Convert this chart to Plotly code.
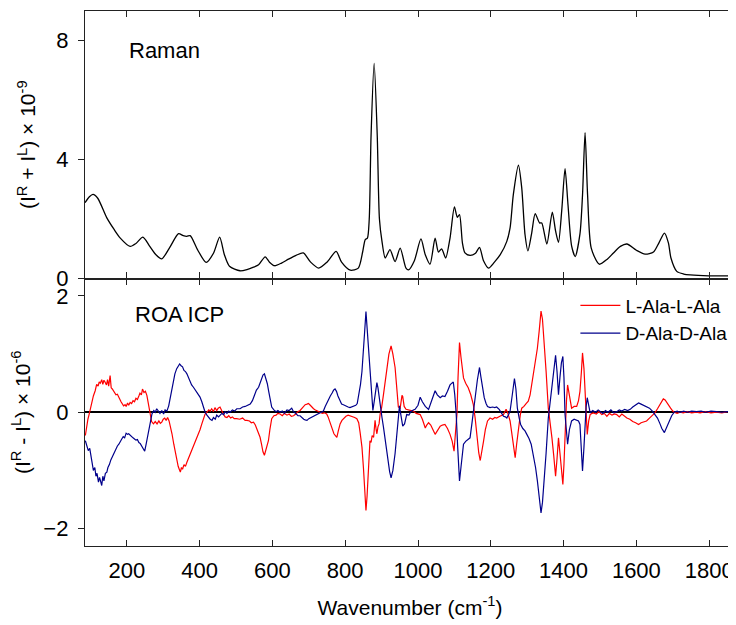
import plotly.graph_objects as go
from plotly.subplots import make_subplots

# Raman spectrum (I^R + I^L) x 1e-9 as (wavenumber, value)
raman = [
    (85, 2.55), (97, 2.75), (107, 2.83), (120, 2.70), (145, 2.04), (165, 1.65), (182, 1.36),
    (209, 1.08), (225, 1.18), (244, 1.39), (262, 1.10), (280, 0.80), (296, 0.66), (318, 1.05),
    (342, 1.51), (355, 1.44), (365, 1.42), (374, 1.44), (395, 0.95), (418, 0.54), (438, 0.85),
    (455, 1.39), (468, 0.80), (482, 0.41), (511, 0.26), (530, 0.30), (548, 0.38), (562, 0.46),
    (580, 0.73), (592, 0.55), (606, 0.43), (625, 0.52), (644, 0.65), (665, 0.78), (685, 0.86),
    (705, 0.55), (727, 0.35), (750, 0.55), (775, 0.91), (790, 0.55), (814, 0.28), (836, 0.35),
    (848, 0.90), (855, 1.31), (861, 1.36), (866, 2.0), (871, 4.8), (879.5, 7.24), (888, 4.8),
    (894, 2.0), (901, 1.25), (910, 0.69), (923, 0.97), (937, 0.57), (951, 1.02), (967, 0.35),
    (974, 0.29), (990, 0.60), (1008, 1.33), (1020, 0.80), (1033, 0.48), (1047, 1.36),
    (1056, 0.89), (1065, 1.00), (1076, 0.69), (1088, 1.36), (1100, 2.41), (1108, 2.06),
    (1114, 2.15), (1122, 1.20), (1129, 0.86), (1143, 0.78), (1158, 0.85), (1169, 1.05),
    (1180, 0.60), (1194, 0.35), (1210, 0.55), (1226, 0.80), (1244, 1.25), (1253, 1.70),
    (1262, 2.83), (1276, 3.81), (1285, 3.05), (1294, 1.48), (1302, 0.93), (1312, 1.5),
    (1322, 2.18), (1334, 1.87), (1340, 1.87), (1354, 1.16), (1369, 2.23), (1378, 1.60),
    (1386, 1.22), (1395, 2.3), (1404, 3.70), (1412, 2.5), (1422, 1.1), (1432, 0.74),
    (1445, 1.5), (1452, 2.8), (1459, 4.91), (1466, 2.8), (1476, 1.02), (1498, 0.48),
    (1520, 0.65), (1537, 0.86), (1556, 1.08), (1574, 1.16), (1600, 0.95), (1624, 0.82),
    (1647, 0.89), (1662, 1.2), (1677, 1.53), (1688, 1.2), (1695, 0.69), (1711, 0.24),
    (1730, 0.15), (1748, 0.12), (1799, 0.09), (1871, 0.09),
]

# ROA ICP (I^R - I^L) x 1e-6, L-Ala-L-Ala
roa_l = [
    (86, -0.40), (90, -0.22), (93, -0.12), (97, -0.02), (101, 0.10), (104, 0.14), (108, 0.28),
    (113, 0.37), (117, 0.48), (121, 0.45), (124, 0.52), (127, 0.50), (131, 0.56), (134, 0.48),
    (137, 0.55), (140, 0.52), (144, 0.47), (147, 0.56), (150, 0.45), (154, 0.63), (157, 0.42),
    (160, 0.40), (163, 0.37), (167, 0.33), (170, 0.30), (174, 0.31), (177, 0.26), (181, 0.22),
    (184, 0.18), (188, 0.14), (191, 0.11), (195, 0.13), (198, 0.10), (202, 0.16), (205, 0.12),
    (209, 0.17), (213, 0.15), (217, 0.20), (221, 0.18), (225, 0.24), (229, 0.22), (233, 0.28),
    (236, 0.33), (240, 0.30), (243, 0.40), (247, 0.34), (251, 0.36), (255, 0.29), (259, 0.15),
    (264, -0.09), (268, -0.16), (273, -0.20), (278, -0.16), (283, -0.20), (288, -0.15),
    (292, -0.19), (296, -0.17), (300, -0.12), (304, -0.10), (308, -0.14), (312, -0.09),
    (316, -0.15), (320, -0.25), (324, -0.37), (329, -0.55), (333, -0.70), (337, -0.83),
    (341, -0.93), (344, -0.98), (347, -1.03), (350, -0.95), (353, -0.98), (357, -0.90),
    (361, -0.93), (365, -0.86), (369, -0.80), (373, -0.74), (378, -0.65), (383, -0.60),
    (387, -0.52), (392, -0.45), (397, -0.37), (401, -0.30), (406, -0.20), (410, -0.12),
    (415, -0.03), (420, 0.00), (425, 0.04), (429, 0.02), (433, 0.06), (438, 0.01), (442, 0.08),
    (447, 0.03), (451, 0.07), (456, 0.09), (460, 0.02), (465, -0.03), (470, -0.08),
    (475, -0.09), (480, -0.06), (485, -0.10), (490, -0.08), (495, -0.11), (502, -0.11),
    (510, -0.12), (518, -0.10), (525, -0.14), (530, -0.14), (537, -0.15), (542, -0.18),
    (548, -0.17), (553, -0.22), (558, -0.30), (562, -0.38), (566, -0.43), (570, -0.55),
    (574, -0.68), (578, -0.74), (582, -0.66), (586, -0.55), (589, -0.49), (593, -0.30),
    (598, -0.11), (604, -0.06), (610, -0.05), (615, -0.02), (621, -0.03), (627, -0.06),
    (633, -0.02), (640, -0.05), (646, -0.03), (652, -0.07), (658, -0.06), (664, -0.03),
    (670, 0.01), (676, 0.03), (681, 0.06), (686, 0.10), (690, 0.13), (695, 0.14), (699, 0.15),
    (704, 0.12), (708, 0.09), (713, 0.06), (718, 0.04), (724, 0.02), (731, 0.00), (737, -0.02),
    (743, -0.01), (749, -0.03), (753, -0.08), (757, -0.15), (761, -0.23), (765, -0.30),
    (769, -0.37), (773, -0.40), (777, -0.43), (781, -0.32), (786, -0.20), (791, -0.14),
    (797, -0.10), (802, -0.07), (808, -0.05), (814, -0.06), (820, -0.08), (826, -0.09),
    (832, -0.11), (837, -0.18), (841, -0.35), (846, -0.60), (850, -0.95), (853, -1.35),
    (857, -1.69), (860, -1.45), (864, -1.06), (868, -0.49), (871, -0.52), (874, -0.40),
    (878, -0.43), (882, -0.14), (885, -0.30), (887, -0.37), (890, -0.25), (893, -0.20),
    (896, -0.03), (900, 0.08), (905, 0.30), (910, 0.54), (915, 0.80), (920, 1.00), (926, 1.14),
    (931, 1.00), (937, 0.77), (942, 0.40), (946, 0.09), (951, 0.07), (956, 0.29), (958, 0.27),
    (962, 0.10), (967, 0.05), (975, 0.04), (987, 0.02), (995, -0.02), (1006, -0.04),
    (1012, -0.12), (1020, -0.27), (1024, -0.22), (1029, -0.18), (1035, -0.22), (1041, -0.30),
    (1047, -0.38), (1053, -0.32), (1061, -0.24), (1067, -0.22), (1074, -0.21), (1081, -0.28),
    (1088, -0.38), (1094, -0.50), (1099, -0.67), (1103, -0.35), (1107, -0.04), (1110, 0.60),
    (1114, 1.20), (1118, 0.95), (1122, 0.70), (1125, 0.59), (1131, 0.50), (1138, 0.42),
    (1145, 0.30), (1152, 0.13), (1157, -0.10), (1163, -0.50), (1167, -0.70), (1171, -0.83),
    (1175, -0.70), (1180, -0.50), (1185, -0.30), (1191, -0.15), (1198, -0.10), (1205, -0.12),
    (1211, -0.09), (1216, -0.10), (1225, -0.07), (1235, -0.04), (1242, 0.05), (1247, -0.02),
    (1253, -0.15), (1258, -0.35), (1262, -0.55), (1267, -0.78), (1271, -0.55), (1276, -0.27),
    (1281, -0.05), (1285, 0.07), (1291, 0.10), (1297, 0.15), (1303, 0.19), (1308, 0.30),
    (1313, 0.50), (1317, 0.67), (1323, 0.90), (1328, 1.10), (1333, 1.40), (1338, 1.74),
    (1342, 1.60), (1347, 1.22), (1352, 0.70), (1358, 0.07), (1363, -0.25), (1368, -0.44),
    (1373, -0.75), (1378, -1.10), (1382, -0.80), (1386, -0.44), (1390, -0.70), (1394, -1.00),
    (1398, -1.24), (1401, -0.90), (1404, -0.33), (1408, 0.20), (1411, 0.47), (1416, 0.25),
    (1422, 0.07), (1429, 0.10), (1436, 0.10), (1441, 0.20), (1445, 0.36), (1449, 0.70),
    (1452, 1.02), (1456, 0.75), (1459, 0.42), (1462, 0.00), (1465, -0.38), (1469, -0.15),
    (1473, -0.04), (1478, -0.02), (1482, -0.01), (1490, -0.03), (1497, 0.01), (1505, -0.04),
    (1512, -0.02), (1519, -0.07), (1526, -0.02), (1533, -0.05), (1540, -0.03), (1546, -0.04),
    (1553, -0.08), (1560, -0.03), (1567, -0.07), (1574, -0.10), (1582, -0.12), (1590, -0.16),
    (1598, -0.18), (1606, -0.21), (1613, -0.18), (1620, -0.17), (1628, -0.15), (1636, -0.10),
    (1644, -0.05), (1651, -0.01), (1658, 0.06), (1665, 0.14), (1670, 0.20), (1674, 0.23),
    (1679, 0.21), (1684, 0.17), (1688, 0.13), (1694, 0.07), (1700, 0.02), (1704, 0.00),
    (1712, -0.02), (1720, 0.00), (1729, -0.01), (1740, 0.01), (1752, -0.01), (1765, 0.00),
    (1775, -0.01), (1790, 0.01), (1805, -0.01), (1820, 0.00), (1835, -0.01), (1850, 0.01),
    (1871, 0.00),
]

# ROA ICP, D-Ala-D-Ala
roa_d = [
    (86, -0.49), (90, -0.58), (94, -0.66), (98, -0.62), (102, -0.80), (105, -0.85), (108, -1.00),
    (112, -0.95), (115, -1.10), (118, -1.05), (122, -1.20), (125, -1.12), (128, -1.22),
    (131, -1.26), (134, -1.10), (137, -1.18), (141, -1.05), (145, -1.03), (148, -0.95),
    (152, -0.90), (156, -0.82), (159, -0.78), (163, -0.71), (167, -0.66), (170, -0.62),
    (174, -0.58), (178, -0.55), (182, -0.49), (186, -0.46), (190, -0.42), (194, -0.44),
    (198, -0.36), (202, -0.38), (205, -0.37), (209, -0.40), (213, -0.42), (217, -0.44),
    (221, -0.46), (225, -0.48), (229, -0.47), (233, -0.52), (237, -0.54), (241, -0.58),
    (245, -0.62), (249, -0.67), (253, -0.55), (256, -0.45), (260, -0.31), (264, -0.15),
    (269, -0.03), (274, 0.03), (278, 0.00), (282, 0.06), (286, 0.02), (291, -0.02), (296, 0.03),
    (301, -0.03), (305, 0.04), (310, 0.02), (315, 0.11), (319, 0.25), (323, 0.40), (328, 0.54),
    (332, 0.66), (337, 0.75), (341, 0.80), (345, 0.83), (349, 0.80), (353, 0.78), (357, 0.72),
    (361, 0.70), (365, 0.66), (369, 0.60), (374, 0.52), (378, 0.47), (383, 0.43), (388, 0.38),
    (392, 0.33), (397, 0.29), (401, 0.26), (406, 0.18), (410, 0.10), (415, 0.00), (420, -0.05),
    (425, -0.10), (429, -0.12), (434, -0.14), (438, -0.09), (443, -0.12), (447, -0.05),
    (452, -0.08), (456, -0.06), (461, -0.02), (466, -0.04), (470, 0.01), (475, -0.02),
    (480, 0.02), (484, 0.00), (490, 0.04), (496, 0.02), (502, 0.06), (511, 0.06), (518, 0.09),
    (525, 0.10), (532, 0.12), (539, 0.14), (545, 0.20), (550, 0.28), (556, 0.38), (562, 0.43),
    (566, 0.50), (570, 0.58), (574, 0.64), (578, 0.66), (582, 0.58), (586, 0.49), (590, 0.35),
    (594, 0.20), (598, 0.09), (604, 0.04), (610, 0.01), (615, 0.03), (621, 0.00), (627, 0.02),
    (633, -0.02), (640, 0.04), (646, 0.03), (653, 0.07), (658, 0.01), (664, -0.02),
    (670, -0.06), (676, -0.06), (681, -0.10), (686, -0.12), (690, -0.13), (695, -0.14),
    (700, -0.11), (706, -0.09), (713, -0.06), (720, -0.04), (726, -0.02), (733, 0.00),
    (740, 0.02), (745, 0.10), (750, 0.17), (755, 0.24), (759, 0.28), (764, 0.33), (768, 0.38),
    (772, 0.40), (776, 0.36), (780, 0.28), (785, 0.20), (790, 0.14), (795, 0.13), (802, 0.10),
    (808, 0.09), (813, 0.08), (818, 0.09), (824, 0.11), (829, 0.12), (833, 0.15), (838, 0.30),
    (842, 0.48), (846, 0.70), (850, 1.00), (853, 1.35), (857, 1.73), (860, 1.45), (864, 1.10),
    (867, 0.89), (870, 0.60), (874, 0.30), (876, 0.03), (880, 0.20), (884, 0.40), (887, 0.51),
    (890, 0.42), (894, 0.20), (898, 0.02), (901, -0.09), (905, -0.25), (910, -0.48),
    (914, -0.71), (918, -0.88), (922, -1.02), (926, -1.13), (931, -1.00), (937, -0.71),
    (942, -0.35), (946, -0.05), (949, 0.11), (953, -0.05), (958, -0.24), (963, -0.20),
    (969, -0.04), (975, -0.05), (980, 0.01), (987, 0.04), (992, 0.05), (1000, 0.12),
    (1006, 0.26), (1012, 0.18), (1020, 0.10), (1029, 0.05), (1035, 0.15), (1041, 0.28),
    (1047, 0.37), (1053, 0.30), (1061, 0.25), (1067, 0.28), (1074, 0.27), (1081, 0.36),
    (1088, 0.47), (1093, 0.50), (1097, 0.52), (1101, 0.30), (1105, -0.04), (1109, -0.60),
    (1114, -1.18), (1118, -0.95), (1122, -0.70), (1125, -0.55), (1131, -0.50), (1138, -0.47),
    (1143, -0.44), (1148, -0.20), (1152, 0.05), (1157, 0.25), (1163, 0.55), (1169, 0.77),
    (1173, 0.60), (1178, 0.35), (1182, 0.25), (1187, 0.15), (1191, 0.10), (1198, 0.08),
    (1205, 0.09), (1211, 0.08), (1216, 0.09), (1223, 0.05), (1230, -0.03), (1235, -0.07),
    (1240, -0.08), (1244, -0.10), (1249, -0.04), (1253, 0.02), (1258, 0.25), (1262, 0.45),
    (1265, 0.58), (1269, 0.40), (1273, 0.07), (1278, -0.10), (1282, -0.21), (1288, -0.28),
    (1294, -0.32), (1299, -0.38), (1305, -0.45), (1311, -0.55), (1317, -0.73), (1323, -0.95),
    (1328, -1.18), (1333, -1.45), (1338, -1.73), (1342, -1.55), (1347, -1.18), (1352, -0.70),
    (1358, -0.10), (1363, 0.20), (1368, 0.47), (1373, 0.75), (1378, 0.98), (1382, 0.70),
    (1386, 0.30), (1390, 0.60), (1394, 0.85), (1398, 0.96), (1401, 0.60), (1404, -0.04),
    (1408, -0.35), (1411, -0.55), (1416, -0.30), (1422, -0.15), (1429, -0.12), (1436, -0.13),
    (1441, -0.15), (1445, -0.21), (1449, -0.60), (1452, -1.01), (1456, -0.60), (1459, -0.21),
    (1462, 0.10), (1465, 0.25), (1469, 0.10), (1473, -0.01), (1480, 0.03), (1488, 0.00),
    (1495, 0.04), (1500, 0.02), (1508, -0.02), (1515, 0.03), (1522, 0.00), (1530, 0.04),
    (1538, -0.01), (1546, 0.01), (1553, 0.04), (1560, 0.02), (1568, 0.05), (1576, 0.03),
    (1583, 0.05), (1590, 0.09), (1598, 0.13), (1606, 0.16), (1613, 0.14), (1620, 0.12),
    (1628, 0.10), (1636, 0.07), (1644, 0.02), (1651, -0.04), (1658, -0.10), (1665, -0.20),
    (1670, -0.28), (1677, -0.35), (1684, -0.25), (1691, -0.15), (1697, -0.06), (1704, 0.00),
    (1712, 0.02), (1720, 0.00), (1730, 0.02), (1740, 0.00), (1752, 0.02), (1765, 0.01),
    (1778, 0.02), (1790, 0.00), (1805, 0.02), (1820, 0.01), (1835, 0.00), (1850, 0.01),
    (1871, 0.02),
]

x_ticks = [200, 400, 600, 800, 1000, 1200, 1400, 1600, 1800]
raman_ticks = [0, 4, 8]
roa_ticks = [-2, 0, 2]

FONT = "Liberation Sans, Arial, sans-serif"
AXIS = "#222222"

fig = make_subplots(rows=2, cols=1, shared_xaxes=True, vertical_spacing=0)

rx, ry = zip(*raman)
fig.add_trace(go.Scatter(x=rx, y=ry, mode="lines", showlegend=False,
                         line=dict(color="black", width=1.3, shape="spline", smoothing=0.7)),
              row=1, col=1)

lx, ly = zip(*roa_l)
fig.add_trace(go.Scatter(x=lx, y=ly, mode="lines", name="L-Ala-L-Ala",
                         line=dict(color="#ff0000", width=1.2)), row=2, col=1)

dx, dy = zip(*roa_d)
fig.add_trace(go.Scatter(x=dx, y=dy, mode="lines", name="D-Ala-D-Ala",
                         line=dict(color="#00008b", width=1.2)), row=2, col=1)

# axes
xcommon = dict(range=[85, 1871], tickvals=x_ticks, ticks="inside", ticklen=6, tickwidth=1.3,
               tickcolor=AXIS, showline=True, linecolor=AXIS, linewidth=1.3, mirror="ticks",
               showgrid=False, zeroline=False, automargin=False)
fig.update_xaxes(**xcommon)
fig.update_xaxes(showticklabels=False, row=1, col=1)
fig.update_xaxes(showticklabels=True, tickfont=dict(size=22, color="black"), ticklabelstandoff=4,
                 title=dict(text="Wavenumber (cm<sup>-1</sup>)", font=dict(size=21, color="black"),
                            standoff=18),
                 row=2, col=1)

ycommon = dict(ticks="outside", ticklen=6, tickwidth=1.3, tickcolor=AXIS, showline=True,
               linecolor=AXIS, linewidth=1.3, mirror=True, showgrid=False, automargin=False,
               tickfont=dict(size=22, color="black"), ticklabelstandoff=5)
fig.update_yaxes(**ycommon)
fig.update_yaxes(range=[0, 9], tickvals=raman_ticks, zeroline=False,
                 title=dict(text="(I<sup>R</sup> + I<sup>L</sup>) × 10<sup>-9</sup>",
                            font=dict(size=21, color="black"), standoff=14),
                 row=1, col=1)
fig.update_yaxes(range=[-2.3, 2.3], tickvals=roa_ticks, zeroline=True, zerolinecolor="black",
                 zerolinewidth=1.6,
                 title=dict(text="(I<sup>R</sup> - I<sup>L</sup>) × 10<sup>-6</sup>",
                            font=dict(size=21, color="black"), standoff=8),
                 row=2, col=1)

fig.add_annotation(text="Raman", xref="paper", yref="paper", x=0.065, y=0.927,
                   xanchor="left", yanchor="middle", showarrow=False,
                   font=dict(size=22, color="black"))
fig.add_annotation(text="ROA ICP", xref="paper", yref="paper", x=0.074, y=0.433,
                   xanchor="left", yanchor="middle", showarrow=False,
                   font=dict(size=22, color="black"))

# page body has an 8px margin, so the figure is shrunk and shifted to land where the original sits
fig.update_layout(
    width=728, height=617,
    template="none",
    font=dict(family=FONT, size=20, color="black"),
    paper_bgcolor="white", plot_bgcolor="white",
    margin=dict(l=77, r=1, t=3, b=79),
    legend=dict(x=0.996, y=0.485, xanchor="right", yanchor="top", bgcolor="rgba(0,0,0,0)",
                font=dict(size=19), tracegroupgap=0, itemwidth=40),
)

fig.write_html("out.html")
